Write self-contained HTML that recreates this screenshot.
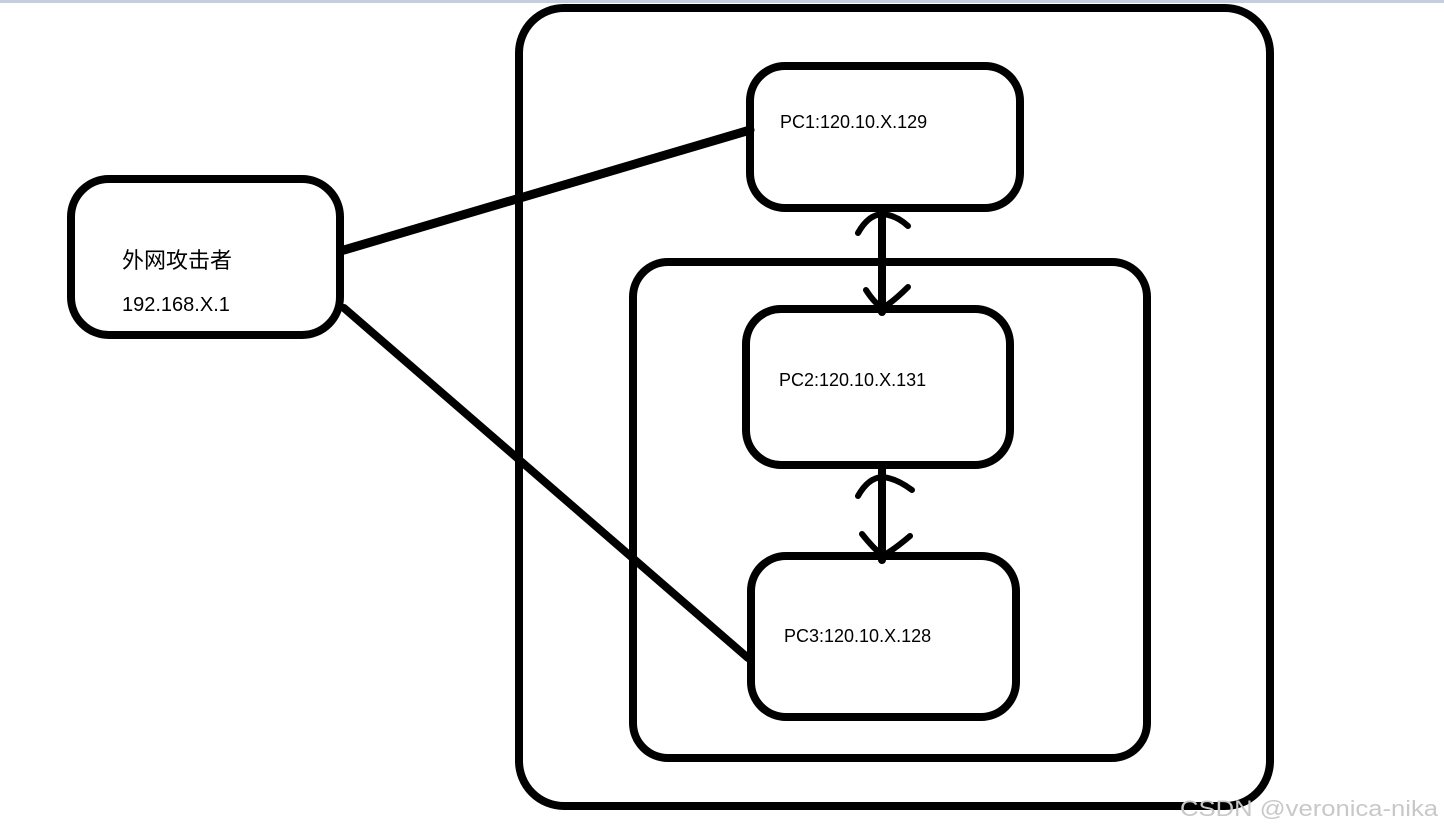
<!DOCTYPE html>
<html><head><meta charset="utf-8"><style>
html,body{margin:0;padding:0;background:#fff;}
body{width:1444px;height:834px;overflow:hidden;position:relative;}
</style></head><body>
<svg width="1444" height="834" viewBox="0 0 1444 834" xmlns="http://www.w3.org/2000/svg" style="position:absolute;left:0;top:0">
<rect x="0" y="0" width="1444" height="3" fill="#c5cede"/>
<g fill="none" stroke="#000" stroke-width="8" stroke-linecap="round">
<rect x="519" y="8" width="751" height="798" rx="45"/>
<rect x="633" y="262" width="514" height="496" rx="35"/>
<rect x="750" y="66" width="270" height="142" rx="35"/>
<rect x="746" y="309" width="264" height="156" rx="35"/>
<rect x="751" y="556" width="265" height="161" rx="35"/>
<rect x="71" y="179" width="269" height="156" rx="38"/>
<line x1="344" y1="250" x2="750" y2="130" stroke-width="9"/>
<line x1="344" y1="308" x2="748" y2="658"/>
<line x1="882" y1="210" x2="882" y2="312"/>
<line x1="882" y1="466" x2="882" y2="560"/>
<path d="M858 233 Q868 215 882 214 Q896 215 908 226" stroke-width="6"/>
<path d="M866 290 Q875 304 883 308 Q895 300 908 287" stroke-width="6"/>
<path d="M858 496 Q868 478 882 477 Q896 478 912 490" stroke-width="6"/>
<path d="M862 534 Q873 548 883 556 Q896 548 910 536" stroke-width="6"/>
</g>
<g font-family="Liberation Sans, Noto Sans CJK SC, sans-serif" fill="#000">
<text x="780" y="128" font-size="18">PC1:120.10.X.129</text>
<text x="779" y="386" font-size="18">PC2:120.10.X.131</text>
<text x="784" y="642" font-size="18">PC3:120.10.X.128</text>
<text x="122" y="268" font-size="22" font-family="Noto Sans CJK SC, sans-serif">外网攻击者</text>
<text x="122" y="311" font-size="20">192.168.X.1</text>
<text x="1180" y="816" font-size="22" fill="#c8c8c8" textLength="258" lengthAdjust="spacingAndGlyphs">CSDN @veronica-nika</text>
</g>
</svg>
</body></html>
